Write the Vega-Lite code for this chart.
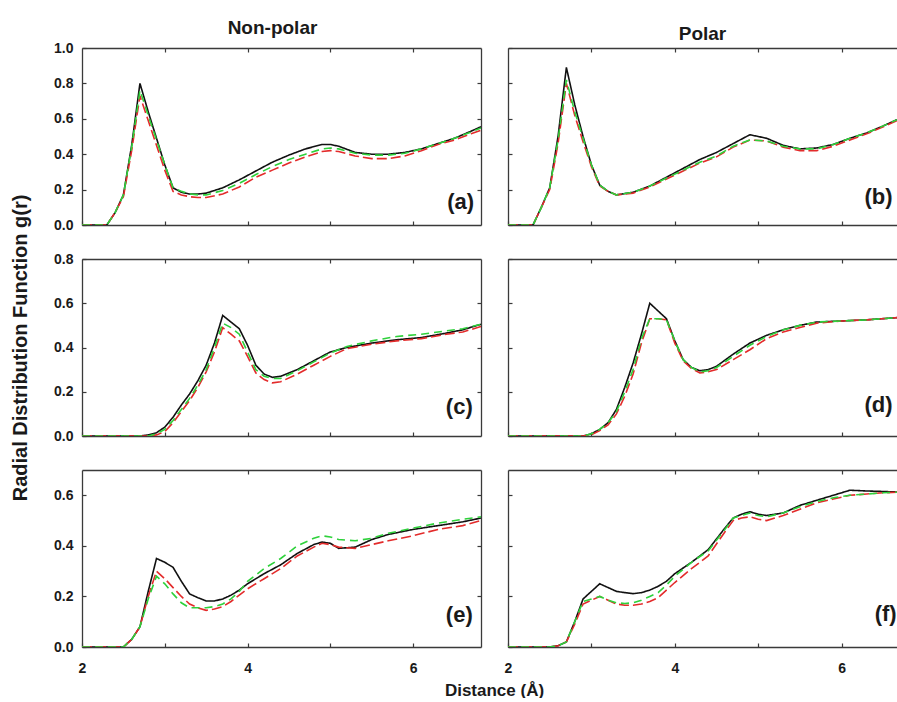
{
"$schema":"https://vega.github.io/schema/vega-lite/v6.json",
"background":"white",
"padding":{"left":10,"top":19,"right":0,"bottom":0},
"config":{
 "view":{"stroke":null},
 "axis":{"grid":false,"domainColor":"#3a3a3a","domainWidth":1.3,"tickColor":"#3a3a3a","tickWidth":1.2,"tickSize":-4,"labelFont":"Liberation Sans","labelFontWeight":"bold","labelFontSize":14,"labelColor":"#1a1a1a","titleFont":"Liberation Sans","titleFontWeight":"bold","titleColor":"#1a1a1a","labelFlush":false,"labelOverlap":false},
 "axisX":{"labelPadding":18},
 "axisY":{"labelPadding":13},
 "title":{"font":"Liberation Sans","fontSize":19,"fontWeight":"bold","color":"#1a1a1a","offset":3}
},
"datasets":{"d":[
{"p":"a","s":"K","r":2,"g":0},{"p":"a","s":"K","r":2.3,"g":0},{"p":"a","s":"K","r":2.4,"g":0.07},{"p":"a","s":"K","r":2.5,"g":0.17},{"p":"a","s":"K","r":2.6,"g":0.45},{"p":"a","s":"K","r":2.7,"g":0.8},{"p":"a","s":"K","r":2.8,"g":0.64},{"p":"a","s":"K","r":2.9,"g":0.49},{"p":"a","s":"K","r":3,"g":0.34},{"p":"a","s":"K","r":3.1,"g":0.21},{"p":"a","s":"K","r":3.2,"g":0.185},{"p":"a","s":"K","r":3.3,"g":0.175},{"p":"a","s":"K","r":3.4,"g":0.175},{"p":"a","s":"K","r":3.5,"g":0.18},{"p":"a","s":"K","r":3.7,"g":0.21},{"p":"a","s":"K","r":3.9,"g":0.255},{"p":"a","s":"K","r":4.1,"g":0.305},{"p":"a","s":"K","r":4.3,"g":0.355},{"p":"a","s":"K","r":4.5,"g":0.395},{"p":"a","s":"K","r":4.7,"g":0.43},{"p":"a","s":"K","r":4.9,"g":0.455},{"p":"a","s":"K","r":5,"g":0.455},{"p":"a","s":"K","r":5.1,"g":0.445},{"p":"a","s":"K","r":5.3,"g":0.41},{"p":"a","s":"K","r":5.5,"g":0.4},{"p":"a","s":"K","r":5.7,"g":0.4},{"p":"a","s":"K","r":5.9,"g":0.41},{"p":"a","s":"K","r":6.1,"g":0.43},{"p":"a","s":"K","r":6.3,"g":0.46},{"p":"a","s":"K","r":6.5,"g":0.49},{"p":"a","s":"K","r":6.7,"g":0.53},{"p":"a","s":"K","r":6.82,"g":0.555},
{"p":"a","s":"R","r":2,"g":0},{"p":"a","s":"R","r":2.3,"g":0},{"p":"a","s":"R","r":2.4,"g":0.07},{"p":"a","s":"R","r":2.5,"g":0.16},{"p":"a","s":"R","r":2.6,"g":0.42},{"p":"a","s":"R","r":2.7,"g":0.73},{"p":"a","s":"R","r":2.8,"g":0.59},{"p":"a","s":"R","r":2.9,"g":0.45},{"p":"a","s":"R","r":3,"g":0.31},{"p":"a","s":"R","r":3.1,"g":0.19},{"p":"a","s":"R","r":3.2,"g":0.17},{"p":"a","s":"R","r":3.3,"g":0.16},{"p":"a","s":"R","r":3.4,"g":0.155},{"p":"a","s":"R","r":3.5,"g":0.155},{"p":"a","s":"R","r":3.7,"g":0.175},{"p":"a","s":"R","r":3.9,"g":0.215},{"p":"a","s":"R","r":4.1,"g":0.27},{"p":"a","s":"R","r":4.3,"g":0.31},{"p":"a","s":"R","r":4.5,"g":0.35},{"p":"a","s":"R","r":4.7,"g":0.385},{"p":"a","s":"R","r":4.9,"g":0.415},{"p":"a","s":"R","r":5,"g":0.42},{"p":"a","s":"R","r":5.1,"g":0.415},{"p":"a","s":"R","r":5.3,"g":0.39},{"p":"a","s":"R","r":5.5,"g":0.375},{"p":"a","s":"R","r":5.7,"g":0.375},{"p":"a","s":"R","r":5.9,"g":0.39},{"p":"a","s":"R","r":6.1,"g":0.42},{"p":"a","s":"R","r":6.3,"g":0.455},{"p":"a","s":"R","r":6.5,"g":0.48},{"p":"a","s":"R","r":6.7,"g":0.515},{"p":"a","s":"R","r":6.82,"g":0.535},
{"p":"a","s":"G","r":2,"g":0},{"p":"a","s":"G","r":2.3,"g":0},{"p":"a","s":"G","r":2.4,"g":0.07},{"p":"a","s":"G","r":2.5,"g":0.17},{"p":"a","s":"G","r":2.6,"g":0.44},{"p":"a","s":"G","r":2.7,"g":0.76},{"p":"a","s":"G","r":2.8,"g":0.62},{"p":"a","s":"G","r":2.9,"g":0.48},{"p":"a","s":"G","r":3,"g":0.34},{"p":"a","s":"G","r":3.1,"g":0.21},{"p":"a","s":"G","r":3.2,"g":0.19},{"p":"a","s":"G","r":3.3,"g":0.175},{"p":"a","s":"G","r":3.4,"g":0.17},{"p":"a","s":"G","r":3.5,"g":0.17},{"p":"a","s":"G","r":3.7,"g":0.195},{"p":"a","s":"G","r":3.9,"g":0.235},{"p":"a","s":"G","r":4.1,"g":0.285},{"p":"a","s":"G","r":4.3,"g":0.33},{"p":"a","s":"G","r":4.5,"g":0.37},{"p":"a","s":"G","r":4.7,"g":0.4},{"p":"a","s":"G","r":4.9,"g":0.43},{"p":"a","s":"G","r":5,"g":0.435},{"p":"a","s":"G","r":5.1,"g":0.43},{"p":"a","s":"G","r":5.3,"g":0.405},{"p":"a","s":"G","r":5.5,"g":0.395},{"p":"a","s":"G","r":5.7,"g":0.395},{"p":"a","s":"G","r":5.9,"g":0.405},{"p":"a","s":"G","r":6.1,"g":0.43},{"p":"a","s":"G","r":6.3,"g":0.46},{"p":"a","s":"G","r":6.5,"g":0.49},{"p":"a","s":"G","r":6.7,"g":0.525},{"p":"a","s":"G","r":6.82,"g":0.548},
{"p":"b","s":"K","r":2,"g":0},{"p":"b","s":"K","r":2.3,"g":0},{"p":"b","s":"K","r":2.4,"g":0.1},{"p":"b","s":"K","r":2.5,"g":0.21},{"p":"b","s":"K","r":2.6,"g":0.5},{"p":"b","s":"K","r":2.7,"g":0.89},{"p":"b","s":"K","r":2.8,"g":0.68},{"p":"b","s":"K","r":2.9,"g":0.5},{"p":"b","s":"K","r":3,"g":0.34},{"p":"b","s":"K","r":3.1,"g":0.225},{"p":"b","s":"K","r":3.2,"g":0.19},{"p":"b","s":"K","r":3.3,"g":0.17},{"p":"b","s":"K","r":3.5,"g":0.185},{"p":"b","s":"K","r":3.7,"g":0.22},{"p":"b","s":"K","r":3.9,"g":0.27},{"p":"b","s":"K","r":4.1,"g":0.32},{"p":"b","s":"K","r":4.3,"g":0.37},{"p":"b","s":"K","r":4.5,"g":0.41},{"p":"b","s":"K","r":4.7,"g":0.46},{"p":"b","s":"K","r":4.9,"g":0.51},{"p":"b","s":"K","r":5.1,"g":0.49},{"p":"b","s":"K","r":5.3,"g":0.45},{"p":"b","s":"K","r":5.5,"g":0.43},{"p":"b","s":"K","r":5.7,"g":0.435},{"p":"b","s":"K","r":5.9,"g":0.455},{"p":"b","s":"K","r":6.1,"g":0.49},{"p":"b","s":"K","r":6.3,"g":0.52},{"p":"b","s":"K","r":6.5,"g":0.56},{"p":"b","s":"K","r":6.664,"g":0.595},
{"p":"b","s":"R","r":2,"g":0},{"p":"b","s":"R","r":2.3,"g":0},{"p":"b","s":"R","r":2.4,"g":0.1},{"p":"b","s":"R","r":2.5,"g":0.2},{"p":"b","s":"R","r":2.6,"g":0.46},{"p":"b","s":"R","r":2.7,"g":0.8},{"p":"b","s":"R","r":2.8,"g":0.62},{"p":"b","s":"R","r":2.9,"g":0.47},{"p":"b","s":"R","r":3,"g":0.33},{"p":"b","s":"R","r":3.1,"g":0.22},{"p":"b","s":"R","r":3.2,"g":0.19},{"p":"b","s":"R","r":3.3,"g":0.17},{"p":"b","s":"R","r":3.5,"g":0.18},{"p":"b","s":"R","r":3.7,"g":0.215},{"p":"b","s":"R","r":3.9,"g":0.26},{"p":"b","s":"R","r":4.1,"g":0.305},{"p":"b","s":"R","r":4.3,"g":0.35},{"p":"b","s":"R","r":4.5,"g":0.385},{"p":"b","s":"R","r":4.7,"g":0.44},{"p":"b","s":"R","r":4.9,"g":0.48},{"p":"b","s":"R","r":5.1,"g":0.475},{"p":"b","s":"R","r":5.3,"g":0.44},{"p":"b","s":"R","r":5.5,"g":0.42},{"p":"b","s":"R","r":5.7,"g":0.42},{"p":"b","s":"R","r":5.9,"g":0.445},{"p":"b","s":"R","r":6.1,"g":0.48},{"p":"b","s":"R","r":6.3,"g":0.515},{"p":"b","s":"R","r":6.5,"g":0.555},{"p":"b","s":"R","r":6.664,"g":0.59},
{"p":"b","s":"G","r":2,"g":0},{"p":"b","s":"G","r":2.3,"g":0},{"p":"b","s":"G","r":2.4,"g":0.1},{"p":"b","s":"G","r":2.5,"g":0.21},{"p":"b","s":"G","r":2.6,"g":0.48},{"p":"b","s":"G","r":2.7,"g":0.82},{"p":"b","s":"G","r":2.8,"g":0.64},{"p":"b","s":"G","r":2.9,"g":0.49},{"p":"b","s":"G","r":3,"g":0.34},{"p":"b","s":"G","r":3.1,"g":0.225},{"p":"b","s":"G","r":3.2,"g":0.19},{"p":"b","s":"G","r":3.3,"g":0.17},{"p":"b","s":"G","r":3.5,"g":0.185},{"p":"b","s":"G","r":3.7,"g":0.22},{"p":"b","s":"G","r":3.9,"g":0.265},{"p":"b","s":"G","r":4.1,"g":0.31},{"p":"b","s":"G","r":4.3,"g":0.355},{"p":"b","s":"G","r":4.5,"g":0.39},{"p":"b","s":"G","r":4.7,"g":0.445},{"p":"b","s":"G","r":4.9,"g":0.48},{"p":"b","s":"G","r":5.1,"g":0.475},{"p":"b","s":"G","r":5.3,"g":0.445},{"p":"b","s":"G","r":5.5,"g":0.43},{"p":"b","s":"G","r":5.7,"g":0.43},{"p":"b","s":"G","r":5.9,"g":0.455},{"p":"b","s":"G","r":6.1,"g":0.49},{"p":"b","s":"G","r":6.3,"g":0.52},{"p":"b","s":"G","r":6.5,"g":0.56},{"p":"b","s":"G","r":6.664,"g":0.595},
{"p":"c","s":"K","r":2,"g":0},{"p":"c","s":"K","r":2.7,"g":0},{"p":"c","s":"K","r":2.8,"g":0.005},{"p":"c","s":"K","r":2.9,"g":0.015},{"p":"c","s":"K","r":3,"g":0.04},{"p":"c","s":"K","r":3.1,"g":0.085},{"p":"c","s":"K","r":3.2,"g":0.14},{"p":"c","s":"K","r":3.3,"g":0.19},{"p":"c","s":"K","r":3.4,"g":0.25},{"p":"c","s":"K","r":3.5,"g":0.32},{"p":"c","s":"K","r":3.6,"g":0.42},{"p":"c","s":"K","r":3.7,"g":0.545},{"p":"c","s":"K","r":3.8,"g":0.515},{"p":"c","s":"K","r":3.9,"g":0.485},{"p":"c","s":"K","r":4,"g":0.41},{"p":"c","s":"K","r":4.1,"g":0.32},{"p":"c","s":"K","r":4.2,"g":0.28},{"p":"c","s":"K","r":4.3,"g":0.265},{"p":"c","s":"K","r":4.4,"g":0.27},{"p":"c","s":"K","r":4.6,"g":0.3},{"p":"c","s":"K","r":4.8,"g":0.34},{"p":"c","s":"K","r":5,"g":0.38},{"p":"c","s":"K","r":5.2,"g":0.4},{"p":"c","s":"K","r":5.5,"g":0.42},{"p":"c","s":"K","r":5.8,"g":0.435},{"p":"c","s":"K","r":6.1,"g":0.445},{"p":"c","s":"K","r":6.4,"g":0.465},{"p":"c","s":"K","r":6.6,"g":0.48},{"p":"c","s":"K","r":6.82,"g":0.505},
{"p":"c","s":"R","r":2,"g":0},{"p":"c","s":"R","r":2.7,"g":0},{"p":"c","s":"R","r":2.8,"g":0},{"p":"c","s":"R","r":2.9,"g":0.005},{"p":"c","s":"R","r":3,"g":0.02},{"p":"c","s":"R","r":3.1,"g":0.06},{"p":"c","s":"R","r":3.2,"g":0.11},{"p":"c","s":"R","r":3.3,"g":0.16},{"p":"c","s":"R","r":3.4,"g":0.22},{"p":"c","s":"R","r":3.5,"g":0.29},{"p":"c","s":"R","r":3.6,"g":0.38},{"p":"c","s":"R","r":3.7,"g":0.49},{"p":"c","s":"R","r":3.8,"g":0.46},{"p":"c","s":"R","r":3.9,"g":0.43},{"p":"c","s":"R","r":4,"g":0.36},{"p":"c","s":"R","r":4.1,"g":0.285},{"p":"c","s":"R","r":4.2,"g":0.255},{"p":"c","s":"R","r":4.3,"g":0.24},{"p":"c","s":"R","r":4.4,"g":0.245},{"p":"c","s":"R","r":4.6,"g":0.28},{"p":"c","s":"R","r":4.8,"g":0.32},{"p":"c","s":"R","r":5,"g":0.36},{"p":"c","s":"R","r":5.2,"g":0.395},{"p":"c","s":"R","r":5.5,"g":0.415},{"p":"c","s":"R","r":5.8,"g":0.43},{"p":"c","s":"R","r":6.1,"g":0.44},{"p":"c","s":"R","r":6.4,"g":0.46},{"p":"c","s":"R","r":6.6,"g":0.47},{"p":"c","s":"R","r":6.82,"g":0.495},
{"p":"c","s":"G","r":2,"g":0},{"p":"c","s":"G","r":2.7,"g":0},{"p":"c","s":"G","r":2.8,"g":0},{"p":"c","s":"G","r":2.9,"g":0.01},{"p":"c","s":"G","r":3,"g":0.03},{"p":"c","s":"G","r":3.1,"g":0.07},{"p":"c","s":"G","r":3.2,"g":0.12},{"p":"c","s":"G","r":3.3,"g":0.17},{"p":"c","s":"G","r":3.4,"g":0.23},{"p":"c","s":"G","r":3.5,"g":0.3},{"p":"c","s":"G","r":3.6,"g":0.4},{"p":"c","s":"G","r":3.7,"g":0.51},{"p":"c","s":"G","r":3.8,"g":0.49},{"p":"c","s":"G","r":3.9,"g":0.46},{"p":"c","s":"G","r":4,"g":0.38},{"p":"c","s":"G","r":4.1,"g":0.3},{"p":"c","s":"G","r":4.2,"g":0.27},{"p":"c","s":"G","r":4.3,"g":0.26},{"p":"c","s":"G","r":4.4,"g":0.26},{"p":"c","s":"G","r":4.6,"g":0.295},{"p":"c","s":"G","r":4.8,"g":0.335},{"p":"c","s":"G","r":5,"g":0.375},{"p":"c","s":"G","r":5.2,"g":0.405},{"p":"c","s":"G","r":5.5,"g":0.43},{"p":"c","s":"G","r":5.8,"g":0.45},{"p":"c","s":"G","r":6.1,"g":0.46},{"p":"c","s":"G","r":6.4,"g":0.475},{"p":"c","s":"G","r":6.6,"g":0.485},{"p":"c","s":"G","r":6.82,"g":0.505},
{"p":"d","s":"K","r":2,"g":0},{"p":"d","s":"K","r":2.9,"g":0},{"p":"d","s":"K","r":3,"g":0.01},{"p":"d","s":"K","r":3.1,"g":0.03},{"p":"d","s":"K","r":3.2,"g":0.06},{"p":"d","s":"K","r":3.3,"g":0.12},{"p":"d","s":"K","r":3.4,"g":0.22},{"p":"d","s":"K","r":3.5,"g":0.33},{"p":"d","s":"K","r":3.6,"g":0.46},{"p":"d","s":"K","r":3.7,"g":0.6},{"p":"d","s":"K","r":3.8,"g":0.565},{"p":"d","s":"K","r":3.9,"g":0.53},{"p":"d","s":"K","r":4,"g":0.43},{"p":"d","s":"K","r":4.1,"g":0.345},{"p":"d","s":"K","r":4.2,"g":0.31},{"p":"d","s":"K","r":4.3,"g":0.295},{"p":"d","s":"K","r":4.4,"g":0.3},{"p":"d","s":"K","r":4.5,"g":0.315},{"p":"d","s":"K","r":4.7,"g":0.37},{"p":"d","s":"K","r":4.9,"g":0.42},{"p":"d","s":"K","r":5.1,"g":0.455},{"p":"d","s":"K","r":5.3,"g":0.48},{"p":"d","s":"K","r":5.5,"g":0.5},{"p":"d","s":"K","r":5.7,"g":0.515},{"p":"d","s":"K","r":6,"g":0.52},{"p":"d","s":"K","r":6.3,"g":0.525},{"p":"d","s":"K","r":6.664,"g":0.535},
{"p":"d","s":"R","r":2,"g":0},{"p":"d","s":"R","r":2.9,"g":0},{"p":"d","s":"R","r":3,"g":0.005},{"p":"d","s":"R","r":3.1,"g":0.025},{"p":"d","s":"R","r":3.2,"g":0.05},{"p":"d","s":"R","r":3.3,"g":0.1},{"p":"d","s":"R","r":3.4,"g":0.18},{"p":"d","s":"R","r":3.5,"g":0.28},{"p":"d","s":"R","r":3.6,"g":0.42},{"p":"d","s":"R","r":3.7,"g":0.53},{"p":"d","s":"R","r":3.8,"g":0.53},{"p":"d","s":"R","r":3.9,"g":0.525},{"p":"d","s":"R","r":4,"g":0.42},{"p":"d","s":"R","r":4.1,"g":0.34},{"p":"d","s":"R","r":4.2,"g":0.305},{"p":"d","s":"R","r":4.3,"g":0.285},{"p":"d","s":"R","r":4.4,"g":0.29},{"p":"d","s":"R","r":4.5,"g":0.3},{"p":"d","s":"R","r":4.7,"g":0.345},{"p":"d","s":"R","r":4.9,"g":0.39},{"p":"d","s":"R","r":5.1,"g":0.44},{"p":"d","s":"R","r":5.3,"g":0.47},{"p":"d","s":"R","r":5.5,"g":0.49},{"p":"d","s":"R","r":5.7,"g":0.51},{"p":"d","s":"R","r":6,"g":0.52},{"p":"d","s":"R","r":6.3,"g":0.525},{"p":"d","s":"R","r":6.664,"g":0.535},
{"p":"d","s":"G","r":2,"g":0},{"p":"d","s":"G","r":2.9,"g":0},{"p":"d","s":"G","r":3,"g":0.01},{"p":"d","s":"G","r":3.1,"g":0.03},{"p":"d","s":"G","r":3.2,"g":0.06},{"p":"d","s":"G","r":3.3,"g":0.11},{"p":"d","s":"G","r":3.4,"g":0.2},{"p":"d","s":"G","r":3.5,"g":0.3},{"p":"d","s":"G","r":3.6,"g":0.44},{"p":"d","s":"G","r":3.7,"g":0.53},{"p":"d","s":"G","r":3.8,"g":0.53},{"p":"d","s":"G","r":3.9,"g":0.525},{"p":"d","s":"G","r":4,"g":0.43},{"p":"d","s":"G","r":4.1,"g":0.345},{"p":"d","s":"G","r":4.2,"g":0.31},{"p":"d","s":"G","r":4.3,"g":0.29},{"p":"d","s":"G","r":4.4,"g":0.295},{"p":"d","s":"G","r":4.5,"g":0.31},{"p":"d","s":"G","r":4.7,"g":0.36},{"p":"d","s":"G","r":4.9,"g":0.41},{"p":"d","s":"G","r":5.1,"g":0.45},{"p":"d","s":"G","r":5.3,"g":0.48},{"p":"d","s":"G","r":5.5,"g":0.5},{"p":"d","s":"G","r":5.7,"g":0.515},{"p":"d","s":"G","r":6,"g":0.52},{"p":"d","s":"G","r":6.3,"g":0.525},{"p":"d","s":"G","r":6.664,"g":0.535},
{"p":"e","s":"K","r":2,"g":0},{"p":"e","s":"K","r":2.5,"g":0},{"p":"e","s":"K","r":2.6,"g":0.03},{"p":"e","s":"K","r":2.7,"g":0.08},{"p":"e","s":"K","r":2.8,"g":0.22},{"p":"e","s":"K","r":2.9,"g":0.35},{"p":"e","s":"K","r":3,"g":0.335},{"p":"e","s":"K","r":3.1,"g":0.315},{"p":"e","s":"K","r":3.2,"g":0.26},{"p":"e","s":"K","r":3.3,"g":0.21},{"p":"e","s":"K","r":3.4,"g":0.195},{"p":"e","s":"K","r":3.5,"g":0.182},{"p":"e","s":"K","r":3.6,"g":0.182},{"p":"e","s":"K","r":3.7,"g":0.19},{"p":"e","s":"K","r":3.8,"g":0.205},{"p":"e","s":"K","r":3.9,"g":0.225},{"p":"e","s":"K","r":4,"g":0.25},{"p":"e","s":"K","r":4.2,"g":0.29},{"p":"e","s":"K","r":4.4,"g":0.325},{"p":"e","s":"K","r":4.6,"g":0.37},{"p":"e","s":"K","r":4.8,"g":0.405},{"p":"e","s":"K","r":4.9,"g":0.415},{"p":"e","s":"K","r":5,"g":0.41},{"p":"e","s":"K","r":5.1,"g":0.39},{"p":"e","s":"K","r":5.3,"g":0.395},{"p":"e","s":"K","r":5.5,"g":0.425},{"p":"e","s":"K","r":5.7,"g":0.445},{"p":"e","s":"K","r":6,"g":0.465},{"p":"e","s":"K","r":6.3,"g":0.48},{"p":"e","s":"K","r":6.6,"g":0.495},{"p":"e","s":"K","r":6.82,"g":0.51},
{"p":"e","s":"R","r":2,"g":0},{"p":"e","s":"R","r":2.5,"g":0},{"p":"e","s":"R","r":2.6,"g":0.03},{"p":"e","s":"R","r":2.7,"g":0.08},{"p":"e","s":"R","r":2.8,"g":0.2},{"p":"e","s":"R","r":2.9,"g":0.3},{"p":"e","s":"R","r":3,"g":0.27},{"p":"e","s":"R","r":3.1,"g":0.235},{"p":"e","s":"R","r":3.2,"g":0.2},{"p":"e","s":"R","r":3.3,"g":0.17},{"p":"e","s":"R","r":3.4,"g":0.155},{"p":"e","s":"R","r":3.5,"g":0.145},{"p":"e","s":"R","r":3.6,"g":0.15},{"p":"e","s":"R","r":3.7,"g":0.16},{"p":"e","s":"R","r":3.8,"g":0.18},{"p":"e","s":"R","r":3.9,"g":0.205},{"p":"e","s":"R","r":4,"g":0.23},{"p":"e","s":"R","r":4.2,"g":0.27},{"p":"e","s":"R","r":4.4,"g":0.31},{"p":"e","s":"R","r":4.6,"g":0.36},{"p":"e","s":"R","r":4.8,"g":0.395},{"p":"e","s":"R","r":4.9,"g":0.41},{"p":"e","s":"R","r":5,"g":0.405},{"p":"e","s":"R","r":5.1,"g":0.395},{"p":"e","s":"R","r":5.3,"g":0.39},{"p":"e","s":"R","r":5.5,"g":0.405},{"p":"e","s":"R","r":5.7,"g":0.42},{"p":"e","s":"R","r":6,"g":0.44},{"p":"e","s":"R","r":6.3,"g":0.465},{"p":"e","s":"R","r":6.6,"g":0.48},{"p":"e","s":"R","r":6.82,"g":0.5},
{"p":"e","s":"G","r":2,"g":0},{"p":"e","s":"G","r":2.5,"g":0},{"p":"e","s":"G","r":2.6,"g":0.03},{"p":"e","s":"G","r":2.7,"g":0.08},{"p":"e","s":"G","r":2.8,"g":0.19},{"p":"e","s":"G","r":2.9,"g":0.28},{"p":"e","s":"G","r":3,"g":0.25},{"p":"e","s":"G","r":3.1,"g":0.21},{"p":"e","s":"G","r":3.2,"g":0.175},{"p":"e","s":"G","r":3.3,"g":0.155},{"p":"e","s":"G","r":3.4,"g":0.155},{"p":"e","s":"G","r":3.5,"g":0.155},{"p":"e","s":"G","r":3.6,"g":0.16},{"p":"e","s":"G","r":3.7,"g":0.17},{"p":"e","s":"G","r":3.8,"g":0.19},{"p":"e","s":"G","r":3.9,"g":0.22},{"p":"e","s":"G","r":4,"g":0.26},{"p":"e","s":"G","r":4.2,"g":0.31},{"p":"e","s":"G","r":4.4,"g":0.35},{"p":"e","s":"G","r":4.6,"g":0.4},{"p":"e","s":"G","r":4.8,"g":0.43},{"p":"e","s":"G","r":4.9,"g":0.44},{"p":"e","s":"G","r":5,"g":0.435},{"p":"e","s":"G","r":5.1,"g":0.425},{"p":"e","s":"G","r":5.3,"g":0.42},{"p":"e","s":"G","r":5.5,"g":0.43},{"p":"e","s":"G","r":5.7,"g":0.45},{"p":"e","s":"G","r":6,"g":0.47},{"p":"e","s":"G","r":6.3,"g":0.49},{"p":"e","s":"G","r":6.6,"g":0.505},{"p":"e","s":"G","r":6.82,"g":0.515},
{"p":"f","s":"K","r":2,"g":0},{"p":"f","s":"K","r":2.5,"g":0},{"p":"f","s":"K","r":2.6,"g":0.005},{"p":"f","s":"K","r":2.7,"g":0.02},{"p":"f","s":"K","r":2.8,"g":0.1},{"p":"f","s":"K","r":2.9,"g":0.19},{"p":"f","s":"K","r":3,"g":0.22},{"p":"f","s":"K","r":3.1,"g":0.25},{"p":"f","s":"K","r":3.2,"g":0.235},{"p":"f","s":"K","r":3.3,"g":0.22},{"p":"f","s":"K","r":3.4,"g":0.215},{"p":"f","s":"K","r":3.5,"g":0.211},{"p":"f","s":"K","r":3.6,"g":0.215},{"p":"f","s":"K","r":3.7,"g":0.225},{"p":"f","s":"K","r":3.8,"g":0.24},{"p":"f","s":"K","r":3.9,"g":0.26},{"p":"f","s":"K","r":4,"g":0.29},{"p":"f","s":"K","r":4.2,"g":0.335},{"p":"f","s":"K","r":4.4,"g":0.385},{"p":"f","s":"K","r":4.6,"g":0.47},{"p":"f","s":"K","r":4.7,"g":0.51},{"p":"f","s":"K","r":4.8,"g":0.525},{"p":"f","s":"K","r":4.9,"g":0.535},{"p":"f","s":"K","r":5,"g":0.525},{"p":"f","s":"K","r":5.1,"g":0.52},{"p":"f","s":"K","r":5.3,"g":0.53},{"p":"f","s":"K","r":5.5,"g":0.56},{"p":"f","s":"K","r":5.7,"g":0.58},{"p":"f","s":"K","r":5.9,"g":0.6},{"p":"f","s":"K","r":6.1,"g":0.62},{"p":"f","s":"K","r":6.3,"g":0.617},{"p":"f","s":"K","r":6.5,"g":0.615},{"p":"f","s":"K","r":6.664,"g":0.613},
{"p":"f","s":"R","r":2,"g":0},{"p":"f","s":"R","r":2.5,"g":0},{"p":"f","s":"R","r":2.6,"g":0.005},{"p":"f","s":"R","r":2.7,"g":0.02},{"p":"f","s":"R","r":2.8,"g":0.09},{"p":"f","s":"R","r":2.9,"g":0.17},{"p":"f","s":"R","r":3,"g":0.185},{"p":"f","s":"R","r":3.1,"g":0.2},{"p":"f","s":"R","r":3.2,"g":0.185},{"p":"f","s":"R","r":3.3,"g":0.17},{"p":"f","s":"R","r":3.4,"g":0.165},{"p":"f","s":"R","r":3.5,"g":0.165},{"p":"f","s":"R","r":3.6,"g":0.17},{"p":"f","s":"R","r":3.7,"g":0.18},{"p":"f","s":"R","r":3.8,"g":0.195},{"p":"f","s":"R","r":3.9,"g":0.225},{"p":"f","s":"R","r":4,"g":0.255},{"p":"f","s":"R","r":4.2,"g":0.31},{"p":"f","s":"R","r":4.4,"g":0.36},{"p":"f","s":"R","r":4.6,"g":0.455},{"p":"f","s":"R","r":4.7,"g":0.5},{"p":"f","s":"R","r":4.8,"g":0.51},{"p":"f","s":"R","r":4.9,"g":0.515},{"p":"f","s":"R","r":5,"g":0.505},{"p":"f","s":"R","r":5.1,"g":0.5},{"p":"f","s":"R","r":5.3,"g":0.52},{"p":"f","s":"R","r":5.5,"g":0.545},{"p":"f","s":"R","r":5.7,"g":0.57},{"p":"f","s":"R","r":5.9,"g":0.585},{"p":"f","s":"R","r":6.1,"g":0.6},{"p":"f","s":"R","r":6.3,"g":0.605},{"p":"f","s":"R","r":6.5,"g":0.61},{"p":"f","s":"R","r":6.664,"g":0.612},
{"p":"f","s":"G","r":2,"g":0},{"p":"f","s":"G","r":2.5,"g":0},{"p":"f","s":"G","r":2.6,"g":0.005},{"p":"f","s":"G","r":2.7,"g":0.02},{"p":"f","s":"G","r":2.8,"g":0.1},{"p":"f","s":"G","r":2.9,"g":0.18},{"p":"f","s":"G","r":3,"g":0.19},{"p":"f","s":"G","r":3.1,"g":0.2},{"p":"f","s":"G","r":3.2,"g":0.185},{"p":"f","s":"G","r":3.3,"g":0.175},{"p":"f","s":"G","r":3.4,"g":0.172},{"p":"f","s":"G","r":3.5,"g":0.175},{"p":"f","s":"G","r":3.6,"g":0.185},{"p":"f","s":"G","r":3.7,"g":0.2},{"p":"f","s":"G","r":3.8,"g":0.215},{"p":"f","s":"G","r":3.9,"g":0.245},{"p":"f","s":"G","r":4,"g":0.28},{"p":"f","s":"G","r":4.2,"g":0.335},{"p":"f","s":"G","r":4.4,"g":0.38},{"p":"f","s":"G","r":4.6,"g":0.465},{"p":"f","s":"G","r":4.7,"g":0.51},{"p":"f","s":"G","r":4.8,"g":0.52},{"p":"f","s":"G","r":4.9,"g":0.53},{"p":"f","s":"G","r":5,"g":0.52},{"p":"f","s":"G","r":5.1,"g":0.515},{"p":"f","s":"G","r":5.3,"g":0.53},{"p":"f","s":"G","r":5.5,"g":0.555},{"p":"f","s":"G","r":5.7,"g":0.575},{"p":"f","s":"G","r":5.9,"g":0.59},{"p":"f","s":"G","r":6.1,"g":0.6},{"p":"f","s":"G","r":6.3,"g":0.605},{"p":"f","s":"G","r":6.5,"g":0.61},{"p":"f","s":"G","r":6.664,"g":0.612}
]},
"data":{"name":"d"},
"bounds":"flush",
"columns":2,
"spacing":{"row":34,"column":27},
"concat":[
  {"width":399,"height":177,"title":{"text":"Non-polar","dx":-9},
   "layer":[
    {"transform":[{"filter":"datum.p=='a'"}],"mark":{"type":"line","strokeWidth":1.6,"clip":true},
     "encoding":{
      "x":{"field":"r","type":"quantitative","scale":{"domain":[2,6.82],"nice":false,"zero":false},"axis":{"orient":"bottom","values":[2,3,4,5,6],"labels":false,"title":null}},
      "y":{"field":"g","type":"quantitative","scale":{"domain":[0,1],"nice":false},"axis":{"orient":"left","values":[0,0.2,0.4,0.6,0.8,1],"format":".1f","title":null}},
      "color":{"field":"s","type":"nominal","scale":{"domain":["K","R","G"],"range":["#111111","#e32b2b","#2ed13b"]},"legend":null},
      "strokeDash":{"field":"s","type":"nominal","scale":{"domain":["K","R","G"],"range":[[1,0],[10,4],[8,5]]},"legend":null}}},
    {"data":{"values":[{}]},"mark":{"type":"text","align":"right","baseline":"alphabetic","font":"Liberation Sans","fontSize":22,"fontWeight":"bold","color":"#1a1a1a"},
     "encoding":{
      "x":{"datum":6.737,"type":"quantitative","axis":{"orient":"top","values":[3,4,5,6],"labels":false,"title":null}},
      "y":{"datum":0.09,"type":"quantitative","axis":{"orient":"right","values":[0.2,0.4,0.6,0.8],"labels":false,"title":null}},
      "text":{"value":"(a)"}}}
   ],
   "resolve":{"axis":{"x":"independent","y":"independent"}}},
  {"width":389,"height":177,"title":{"text":"Polar"},
   "layer":[
    {"transform":[{"filter":"datum.p=='b'"}],"mark":{"type":"line","strokeWidth":1.6,"clip":true},
     "encoding":{
      "x":{"field":"r","type":"quantitative","scale":{"domain":[2,6.664],"nice":false,"zero":false},"axis":{"orient":"bottom","values":[2,3,4,5,6],"labels":false,"title":null}},
      "y":{"field":"g","type":"quantitative","scale":{"domain":[0,1],"nice":false},"axis":{"orient":"left","values":[0,0.2,0.4,0.6,0.8,1],"labels":false,"title":null}},
      "color":{"field":"s","type":"nominal","scale":{"domain":["K","R","G"],"range":["#111111","#e32b2b","#2ed13b"]},"legend":null},
      "strokeDash":{"field":"s","type":"nominal","scale":{"domain":["K","R","G"],"range":[[1,0],[10,4],[8,5]]},"legend":null}}},
    {"data":{"values":[{}]},"mark":{"type":"text","align":"right","baseline":"alphabetic","font":"Liberation Sans","fontSize":22,"fontWeight":"bold","color":"#1a1a1a"},
     "encoding":{
      "x":{"datum":6.61,"type":"quantitative","axis":{"orient":"top","values":[3,4,5,6],"labels":false,"title":null}},
      "y":{"datum":0.118,"type":"quantitative","axis":null},
      "text":{"value":"(b)"}}}
   ],
   "resolve":{"axis":{"x":"independent","y":"independent"}}},
  {"width":399,"height":177,
   "layer":[
    {"transform":[{"filter":"datum.p=='c'"}],"mark":{"type":"line","strokeWidth":1.6,"clip":true},
     "encoding":{
      "x":{"field":"r","type":"quantitative","scale":{"domain":[2,6.82],"nice":false,"zero":false},"axis":{"orient":"bottom","values":[2,3,4,5,6],"labels":false,"title":null}},
      "y":{"field":"g","type":"quantitative","scale":{"domain":[0,0.8],"nice":false},"axis":{"orient":"left","values":[0,0.2,0.4,0.6,0.8],"format":".1f","title":"Radial Distribution Function g(r)","titleX":-61.5,"titleY":88.5,"titleAngle":-90,"titleAlign":"center","titleBaseline":"middle","titleFontSize":20}},
      "color":{"field":"s","type":"nominal","scale":{"domain":["K","R","G"],"range":["#111111","#e32b2b","#2ed13b"]},"legend":null},
      "strokeDash":{"field":"s","type":"nominal","scale":{"domain":["K","R","G"],"range":[[1,0],[10,4],[8,5]]},"legend":null}}},
    {"data":{"values":[{}]},"mark":{"type":"text","align":"right","baseline":"alphabetic","font":"Liberation Sans","fontSize":22,"fontWeight":"bold","color":"#1a1a1a"},
     "encoding":{
      "x":{"datum":6.72,"type":"quantitative","axis":{"orient":"top","values":[3,4,5,6],"labels":false,"title":null}},
      "y":{"datum":0.1,"type":"quantitative","axis":{"orient":"right","values":[0.2,0.4,0.6],"labels":false,"title":null}},
      "text":{"value":"(c)"}}}
   ],
   "resolve":{"axis":{"x":"independent","y":"independent"}}},
  {"width":389,"height":177,
   "layer":[
    {"transform":[{"filter":"datum.p=='d'"}],"mark":{"type":"line","strokeWidth":1.6,"clip":true},
     "encoding":{
      "x":{"field":"r","type":"quantitative","scale":{"domain":[2,6.664],"nice":false,"zero":false},"axis":{"orient":"bottom","values":[2,3,4,5,6],"labels":false,"title":null}},
      "y":{"field":"g","type":"quantitative","scale":{"domain":[0,0.8],"nice":false},"axis":{"orient":"left","values":[0,0.2,0.4,0.6,0.8],"labels":false,"title":null}},
      "color":{"field":"s","type":"nominal","scale":{"domain":["K","R","G"],"range":["#111111","#e32b2b","#2ed13b"]},"legend":null},
      "strokeDash":{"field":"s","type":"nominal","scale":{"domain":["K","R","G"],"range":[[1,0],[10,4],[8,5]]},"legend":null}}},
    {"data":{"values":[{}]},"mark":{"type":"text","align":"right","baseline":"alphabetic","font":"Liberation Sans","fontSize":22,"fontWeight":"bold","color":"#1a1a1a"},
     "encoding":{
      "x":{"datum":6.61,"type":"quantitative","axis":{"orient":"top","values":[3,4,5,6],"labels":false,"title":null}},
      "y":{"datum":0.108,"type":"quantitative","axis":null},
      "text":{"value":"(d)"}}}
   ],
   "resolve":{"axis":{"x":"independent","y":"independent"}}},
  {"width":399,"height":177,
   "layer":[
    {"transform":[{"filter":"datum.p=='e'"}],"mark":{"type":"line","strokeWidth":1.6,"clip":true},
     "encoding":{
      "x":{"field":"r","type":"quantitative","scale":{"domain":[2,6.82],"nice":false,"zero":false},"axis":{"orient":"bottom","values":[2,3,4,5,6],"labelExpr":"datum.value % 2 == 0 ? datum.label : ''","title":"Distance (Å)","titleX":412,"titleY":43,"titleAlign":"center","titleBaseline":"middle","titleFontSize":17}},
      "y":{"field":"g","type":"quantitative","scale":{"domain":[0,0.7],"nice":false},"axis":{"orient":"left","values":[0,0.2,0.4,0.6],"format":".1f","title":null}},
      "color":{"field":"s","type":"nominal","scale":{"domain":["K","R","G"],"range":["#111111","#e32b2b","#2ed13b"]},"legend":null},
      "strokeDash":{"field":"s","type":"nominal","scale":{"domain":["K","R","G"],"range":[[1,0],[10,4],[8,5]]},"legend":null}}},
    {"data":{"values":[{}]},"mark":{"type":"text","align":"right","baseline":"alphabetic","font":"Liberation Sans","fontSize":22,"fontWeight":"bold","color":"#1a1a1a"},
     "encoding":{
      "x":{"datum":6.72,"type":"quantitative","axis":{"orient":"top","values":[3,4,5,6],"labels":false,"title":null}},
      "y":{"datum":0.097,"type":"quantitative","axis":{"orient":"right","values":[0.2,0.4,0.6],"labels":false,"title":null}},
      "text":{"value":"(e)"}}}
   ],
   "resolve":{"axis":{"x":"independent","y":"independent"}}},
  {"width":389,"height":177,
   "layer":[
    {"transform":[{"filter":"datum.p=='f'"}],"mark":{"type":"line","strokeWidth":1.6,"clip":true},
     "encoding":{
      "x":{"field":"r","type":"quantitative","scale":{"domain":[2,6.664],"nice":false,"zero":false},"axis":{"orient":"bottom","values":[2,3,4,5,6],"labelExpr":"datum.value % 2 == 0 ? datum.label : ''","title":null}},
      "y":{"field":"g","type":"quantitative","scale":{"domain":[0,0.7],"nice":false},"axis":{"orient":"left","values":[0,0.2,0.4,0.6],"labels":false,"title":null}},
      "color":{"field":"s","type":"nominal","scale":{"domain":["K","R","G"],"range":["#111111","#e32b2b","#2ed13b"]},"legend":null},
      "strokeDash":{"field":"s","type":"nominal","scale":{"domain":["K","R","G"],"range":[[1,0],[10,4],[8,5]]},"legend":null}}},
    {"data":{"values":[{}]},"mark":{"type":"text","align":"right","baseline":"alphabetic","font":"Liberation Sans","fontSize":22,"fontWeight":"bold","color":"#1a1a1a"},
     "encoding":{
      "x":{"datum":6.66,"type":"quantitative","axis":{"orient":"top","values":[3,4,5,6],"labels":false,"title":null}},
      "y":{"datum":0.104,"type":"quantitative","axis":null},
      "text":{"value":"(f)"}}}
   ],
   "resolve":{"axis":{"x":"independent","y":"independent"}}}
]
}
